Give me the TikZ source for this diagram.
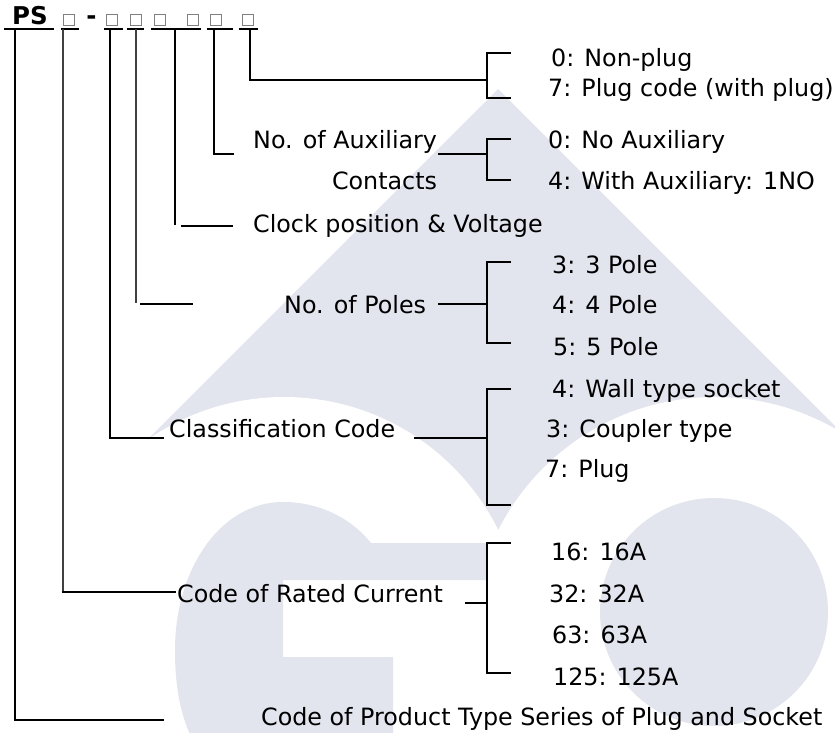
\documentclass[tikz,border=0pt]{standalone}
\usepackage{fontspec}
\setmainfont{DejaVu Sans}
\definecolor{wmark}{RGB}{226,228,238}
\definecolor{boxgray}{RGB}{128,128,128}
\tikzset{
  lbl/.style={anchor=base west,inner sep=0pt,font=\fontsize{23.8}{28}\selectfont},
  rlbl/.style={lbl,anchor=base east},
  blbl/.style={lbl,font=\fontsize{24.5}{28}\selectfont\bfseries},
  ln/.style={line width=2.8pt,line cap=rect},
  thinln/.style={line width=1.4pt,black!75},
  cbox/.style={draw=boxgray,line width=1pt,minimum size=11pt,inner sep=0pt}
}
\begin{document}
\begin{tikzpicture}[x=1pt,y=-1pt]
  \useasboundingbox (0,0) rectangle (835,733);
  % watermark behind the chart
  \begin{scope}
    \clip (0,0) rectangle (835,733);
    \fill[wmark] (498,89) -- (143,444) -- (284,636) -- (715,640) -- (835,520) -- (835,426) -- cycle;
    \fill[white] (284,636) circle (239pt);
    \fill[white] (715,640) circle (243pt);
    \fill[wmark] (487,543) -- (371,543) .. controls (350,517) and (318,502) .. (283,502)
      .. controls (220,502) and (175,570) .. (175,650)
      .. controls (175,700) and (185,725) .. (195,745) -- (393,745) -- (393,657)
      -- (283,657) -- (283,580) -- (487,580) -- cycle;
    \fill[wmark] (714,612) circle (114pt);
  \end{scope}

  % type code
  \node[blbl] (ps) at (12,25) {PS};
  \node[blbl,anchor=base] (dash) at (91.5,25) {-};
  \foreach \i/\x in {1/68.5,2/112,3/136,4/160,5/192.5,6/216,7/247.5}
    \node[cbox] (c\i) at (\x,20) {};
  \foreach \a/\b in {5/53,62/78,105/122,128/143,152/200,208/232,240/257}
    \draw[ln] (\a,29) -- (\b,29);

  % branches from the code
  \foreach \n/\x/\y/\s/\e/\h/\v in {0/15/720/15/163/720/ln, 1/63/592/63/175/592/thinln,
      2/110/438/110/163/438/ln, 3/136/303/141/192/304/thinln, 4/175/224/182/232/226/ln,
      5/214/154/214/233/154/ln, 6/250/80/250/487/80/ln} {
    \coordinate (top\n) at (\x,29);
    \coordinate (bend\n) at (\x,\y);
    \coordinate (from\n) at (\s,\h);
    \coordinate (to\n) at (\e,\h);
    \draw[\v] (top\n) -- (bend\n);
    \draw[ln] (from\n) -- (to\n);
  }

  % brackets
  \foreach \n/\a/\b in {1/53/98, 2/139/180, 3/262/343, 4/389/505, 5/543/673} {
    \coordinate (brt\n) at (510,\a);
    \coordinate (brb\n) at (510,\b);
    \draw[ln] (brt\n) -- (487,\a) -- (487,\b) -- (brb\n);
  }
  \foreach \n/\m/\i in {2/154/439, 3/304/439, 4/438/415, 5/603/466} {
    \coordinate (in\n) at (\i,\m);
    \coordinate (mid\n) at (487,\m);
    \draw[ln] (in\n) -- (mid\n);
  }

  % labels
  \node[lbl] (plug0) at (551,67) {0: Non-plug};
  \node[lbl] (plug7) at (548,97) {7: Plug code (with plug)};
  \node[lbl] (auxA) at (253,148) {No. of Auxiliary};
  \node[rlbl] (auxB) at (auxA.base east |- 0,189) {Contacts};
  \node[lbl] (aux0) at (548,149) {0: No Auxiliary};
  \node[lbl] (aux4) at (548,189) {4: With Auxiliary: 1NO};
  \node[lbl] (clock) at (253,232) {Clock position \& Voltage};
  \node[lbl] (poles) at (284,313) {No. of Poles};
  \node[lbl] (pole3) at (552,273) {3: 3 Pole};
  \node[lbl] (pole4) at (552,313) {4: 4 Pole};
  \node[lbl] (pole5) at (553,355) {5: 5 Pole};
  \node[lbl] (cls) at (169,437) {Classification Code};
  \node[lbl] (cls4) at (552,397) {4: Wall type socket};
  \node[lbl] (cls3) at (546,437) {3: Coupler type};
  \node[lbl] (cls7) at (545,477) {7: Plug};
  \node[lbl] (cur) at (177,602) {Code of Rated Current};
  \node[lbl] (cur16) at (551,560) {16: 16A};
  \node[lbl] (cur32) at (549,602) {32: 32A};
  \node[lbl] (cur63) at (552,643) {63: 63A};
  \node[lbl] (cur125) at (553,685) {125: 125A};
  \node[lbl] (prod) at (261,725) {Code of Product Type Series of Plug and Socket};
\end{tikzpicture}
\end{document}
